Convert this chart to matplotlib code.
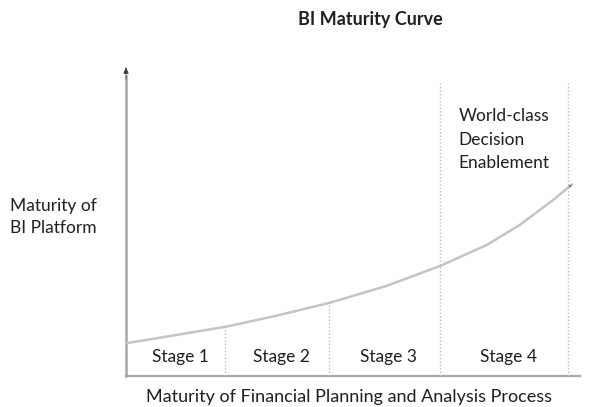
import matplotlib
matplotlib.use("Agg")
import matplotlib.pyplot as plt

# curve: process maturity (x) vs platform maturity (y), 0-100
curve_x = [0, 11, 22.6, 34, 45.7, 58.5, 70.4, 80.9, 88.3, 95.8, 100]
curve_y = [10.6, 13.2, 16.0, 19.6, 23.7, 29.2, 35.6, 42.4, 48.9, 57.0, 62]

stages = ["Stage 1", "Stage 2", "Stage 3", "Stage 4"]
stage_edges = [0, 22.2, 45.5, 70.4, 99]
tall_dividers = [70.4, 99]   # these run up to the top of the chart

title = "BI Maturity Curve"
xlabel = "Maturity of Financial Planning and Analysis Process"
ylabel = "Maturity of\nBI Platform"
note = "World-class\nDecision\nEnablement"

plt.rcParams['font.family'] = ['Lato', 'DejaVu Sans']
text_color = "#1f1f1f"
line_gray = "#a6a6a6"

W, H = 591, 407
fig = plt.figure(figsize=(W / 100, H / 100), dpi=100)

# axes box in pixels: x 126..580, y 376 (bottom) .. 67 (top)
left, right, bottom, top = 126, 580, 376, 67
ax = fig.add_axes([left / W, (H - bottom) / H, (right - left) / W, (bottom - top) / H])
ax.set_xlim(0, (right - left) / 4.46)
ax.set_ylim(0, 100)
ax.axis("off")

# axes with arrow on y
ax.plot([0, ax.get_xlim()[1]], [0, 0], color=line_gray, lw=1.6, clip_on=False)
ax.plot([0, 0], [0, 97], color=line_gray, lw=1.8, clip_on=False)
ax.annotate("", xy=(0, 100), xytext=(0, 96),
            arrowprops=dict(arrowstyle="-|>,head_length=0.4,head_width=0.16",
                            color="#3a3a3a", lw=0.5, shrinkA=0, shrinkB=0))

# curve with small arrow at the end
ax.plot(curve_x, curve_y, color="#c4c4c4", lw=1.8,
        solid_capstyle="round", solid_joinstyle="round")
ax.annotate("", xy=(curve_x[-1], curve_y[-1]), xytext=(curve_x[-2], curve_y[-2]),
            arrowprops=dict(arrowstyle="-|>,head_length=0.25,head_width=0.12",
                            color="#7f7f7f", lw=0, shrinkA=0, shrinkB=0))

# stage dividers
for e in stage_edges[1:]:
    if e in tall_dividers:
        y_top = 94.8
    else:
        # stop where the curve crosses
        for i in range(len(curve_x) - 1):
            if curve_x[i] <= e <= curve_x[i + 1]:
                t = (e - curve_x[i]) / (curve_x[i + 1] - curve_x[i])
                y_top = curve_y[i] + t * (curve_y[i + 1] - curve_y[i])
    ax.plot([e, e], [0, y_top], color="#bdbdbd", lw=1, ls=(0, (1, 1.5)))

# stage labels
for i, s in enumerate(stages):
    xc = (stage_edges[i] + stage_edges[i + 1]) / 2
    ax.text(xc + 1, 6.2, s, ha="center", va="center", fontsize=12.5, color=text_color)

ax.text(74.6, 76.5, note, ha="left", va="center", fontsize=12.5,
        color=text_color, linespacing=1.55)

fig.text(370 / W, 1 - 20 / H, title, ha="center", va="center",
         fontsize=13, fontweight="bold", color=text_color)
fig.text(349 / W, 1 - 397 / H, xlabel, ha="center", va="center",
         fontsize=13, color=text_color)
fig.text(10 / W, 1 - 217 / H, ylabel, ha="left", va="center",
         fontsize=12.5, color=text_color, linespacing=1.5)

fig.savefig("out.png", dpi=100)
